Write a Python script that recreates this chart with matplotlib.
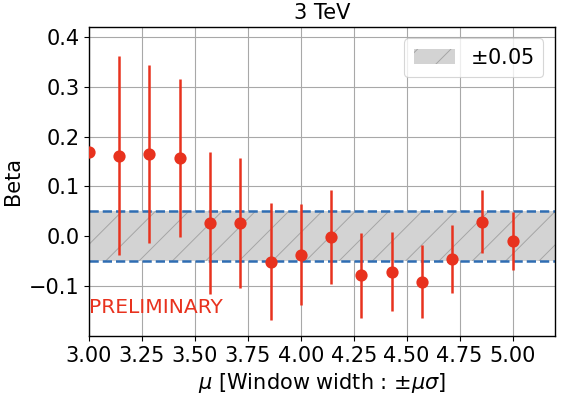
import matplotlib
matplotlib.use("Agg")
import matplotlib.pyplot as plt
import numpy as np

# window width multipliers and fitted beta values
mu = np.linspace(3.0, 5.0, 15)
beta = [0.169, 0.162, 0.165, 0.157, 0.027, 0.027, -0.051, -0.037,
        -0.001, -0.078, -0.071, -0.091, -0.045, 0.029, -0.010]
beta_err = [0.0, 0.199, 0.178, 0.159, 0.143, 0.130, 0.117, 0.101,
            0.094, 0.085, 0.079, 0.073, 0.068, 0.063, 0.058]
band = 0.05


def main():
    plt.rcParams['hatch.linewidth'] = 0.35
    fig = plt.figure(figsize=(5.61 / 2, 3.97 / 2), dpi=200)
    ax = fig.add_axes([0.1586, 0.1537, 0.8306, 0.7783])

    ax.axhspan(-band, band, facecolor='lightgray', edgecolor='#a5a5a5',
               hatch='//', lw=0, label=r'$\pm$0.05', zorder=1)
    ax.axhline(band, color='#2f6db3', ls='--', lw=0.9, zorder=2)
    ax.axhline(-band, color='#2f6db3', ls='--', lw=0.9, zorder=2)

    ax.errorbar(mu, beta, yerr=beta_err, fmt='o', color='#e8321e',
                ms=3.4, elinewidth=0.9, capsize=0, zorder=3)

    ax.text(3.0, -0.154, 'PRELIMINARY', color='#e8321e', fontsize=7.3)

    ax.set_xlim(3.0, 5.2)
    ax.set_ylim(-0.2, 0.42)
    ax.set_xticks(np.arange(3.0, 5.01, 0.25))
    ax.set_yticks([-0.1, 0.0, 0.1, 0.2, 0.3, 0.4])
    ax.grid(True, color='#a8a8a8', lw=0.4)
    ax.set_axisbelow(True)
    for s in ax.spines.values():
        s.set_linewidth(0.5)
    ax.tick_params(labelsize=7.5, length=1.75, width=0.4, pad=1.75)

    ax.set_xlabel(r'$\mu$ [Window width : $\pm\mu\sigma$]', fontsize=7.5, labelpad=2)
    ax.set_ylabel('Beta', fontsize=7.5, labelpad=2)
    ax.set_title('3 TeV', fontsize=7.5, pad=3)

    leg = ax.legend(loc='upper right', fontsize=7.5, borderpad=0.45,
                    handlelength=2.0, handletextpad=0.7, borderaxespad=0.55)
    leg.get_frame().set_linewidth(0.4)

    fig.savefig('out.png', dpi=200)


if __name__ == "__main__":
    main()
